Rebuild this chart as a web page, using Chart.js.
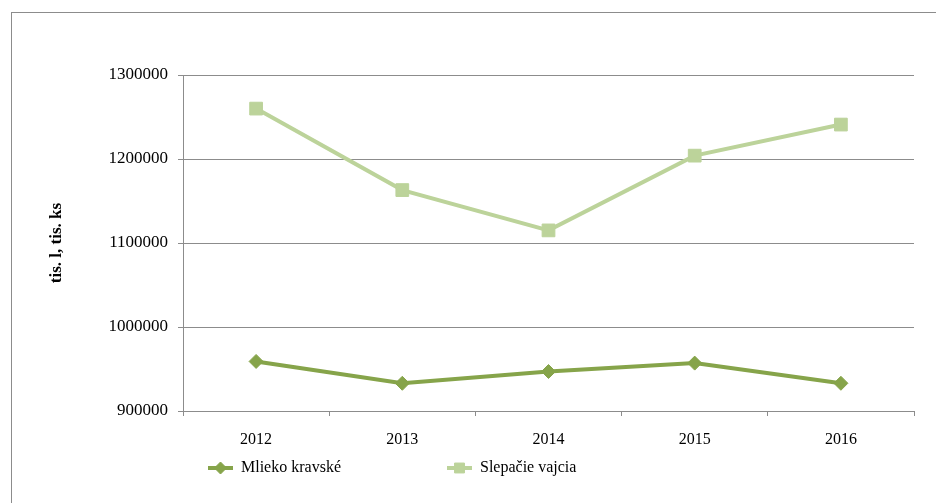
<!DOCTYPE html>
<html>
<head>
<meta charset="utf-8">
<script src="https://cdn.jsdelivr.net/npm/chart.js@4/dist/chart.umd.min.js"></script>
<style>
  body { margin: 0; background: #fff; width: 936px; height: 503px; overflow: hidden; position: relative; }
  #frame { position: absolute; left: 11px; top: 12px; right: -2px; bottom: -2px; border-top: 1px solid #8c8c8c; border-left: 1px solid #8c8c8c; }
  #chart { position: absolute; left: 0; top: 0; }
</style>
</head>
<body>
<div id="frame"></div>
<canvas id="chart" width="936" height="503"></canvas>
<script>
const years = ["2012", "2013", "2014", "2015", "2016"];
const mliekoValues = [959000, 933000, 947000, 957000, 933000];
const vajciaValues = [1260000, 1163000, 1115000, 1204000, 1241000];
const yTickValues = [900000, 1000000, 1100000, 1200000, 1300000];
const seriesNames = ["Mlieko kravské", "Slepačie vajcia"];
const seriesColors = ["#86a44a", "#bcd39a"];
const yTitle = "tis. l, tis. ks";

const serif = "'Liberation Serif', 'Times New Roman', serif";
const gridColor = "#8c8c8c";

// small legend glyph: line with the series marker in the middle
function legendGlyph(color, style, radius) {
  const c = document.createElement("canvas");
  c.width = 25;
  c.height = 16;
  const g = c.getContext("2d");
  g.strokeStyle = color;
  g.lineWidth = 4;
  g.beginPath();
  g.moveTo(0, 8);
  g.lineTo(25, 8);
  g.stroke();
  g.fillStyle = color;
  g.lineWidth = 1;
  Chart.helpers.drawPoint(g, { pointStyle: style, radius: radius, borderWidth: 1, rotation: 0 }, 12.5, 8);
  return c;
}

const legendPlace = {
  id: "legendPlace",
  afterLayout(chart) {
    const lg = chart.legend;
    const p = lg.options.labels.padding;
    lg.left = 208 - p;
    lg.top = 460 - p;
  }
};

const ctx = document.getElementById("chart").getContext("2d");
const chart = new Chart(ctx, {
  type: "line",
  data: {
    labels: years,
    datasets: [
      {
        label: seriesNames[0],
        data: mliekoValues,
        borderColor: seriesColors[0],
        backgroundColor: seriesColors[0],
        borderWidth: 4,
        pointStyle: "rectRot",
        pointRadius: 7,
        pointBorderWidth: 1,
        pointBackgroundColor: seriesColors[0],
        pointBorderColor: seriesColors[0],
        tension: 0,
        clip: false
      },
      {
        label: seriesNames[1],
        data: vajciaValues,
        borderColor: seriesColors[1],
        backgroundColor: seriesColors[1],
        borderWidth: 4,
        pointStyle: "rect",
        pointRadius: 9,
        pointBorderWidth: 1,
        pointBackgroundColor: seriesColors[1],
        pointBorderColor: seriesColors[1],
        tension: 0,
        clip: false
      }
    ]
  },
  options: {
    responsive: false,
    animation: false,
    devicePixelRatio: 1,
    layout: { padding: { left: 42, right: 22, top: 75, bottom: 14 } },
    scales: {
      x: {
        type: "category",
        offset: true,
        grid: { offset: true, drawOnChartArea: false, tickLength: 5, color: gridColor },
        border: { color: gridColor },
        ticks: { color: "#000", padding: 14, font: { family: serif, size: 16 }, maxRotation: 0 },
        afterFit(s) { s.height = 38; }
      },
      y: {
        min: yTickValues[0],
        max: yTickValues[yTickValues.length - 1],
        grid: { color: gridColor, tickLength: 5 },
        border: { color: gridColor },
        afterBuildTicks(s) { s.ticks = yTickValues.map(v => ({ value: v })); },
        ticks: {
          color: "#000",
          padding: 10,
          font: { family: serif, size: 17 },
          callback: v => String(v)
        },
        title: {
          display: true,
          text: yTitle,
          color: "#000",
          font: { family: serif, size: 17, weight: "bold" }
        },
        afterFit(s) { s.width = 141; }
      }
    },
    plugins: {
      legend: {
        position: "bottom",
        align: "start",
        maxHeight: 40,
        labels: {
          color: "#000",
          font: { family: serif, size: 16 },
          padding: 106,
          usePointStyle: true,
          pointStyleWidth: 25,
          generateLabels(chart) {
            return chart.data.datasets.map((ds, i) => ({
              text: ds.label,
              fillStyle: ds.borderColor,
              strokeStyle: ds.borderColor,
              lineWidth: 0,
              fontColor: "#000",
              pointStyle: legendGlyph(ds.borderColor, ds.pointStyle, ds.pointStyle === "rect" ? 7 : 6),
              datasetIndex: i,
              hidden: false
            }));
          }
        }
      },
      tooltip: { enabled: false }
    }
  },
  plugins: [legendPlace]
});
</script>
</body>
</html>
